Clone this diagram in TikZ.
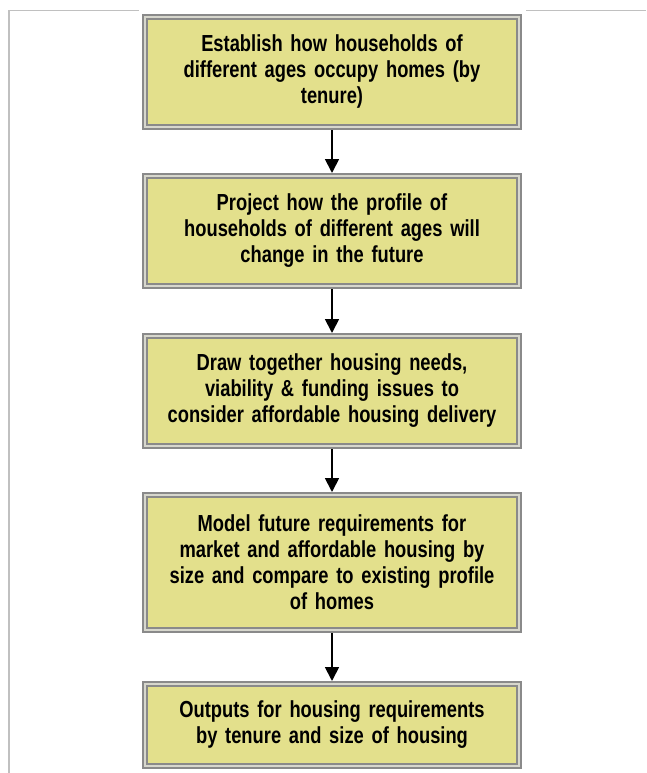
\documentclass[tikz,border=0pt]{standalone}
\usepackage{fontspec}
\setmainfont{Liberation Sans}[FakeStretch=0.79]
\usetikzlibrary{arrows.meta}
\definecolor{boxfill}{RGB}{227,224,140}
\definecolor{boxline}{RGB}{138,138,138}
\definecolor{boxgap}{RGB}{215,215,205}
\definecolor{framegray}{RGB}{192,192,192}
\begin{document}
\begin{tikzpicture}[x=1pt,y=1pt,
  stepbox/.style={draw=boxline, double=boxgap, line width=1.8pt, double distance=2pt,
    fill=boxfill, minimum width=374.4pt, text width=370pt, align=center,
    inner sep=0pt, outer sep=2.8pt, font=\fontsize{23.2}{26}\selectfont\bfseries},
  flow/.style={-{Triangle[length=14pt,width=14pt]}, line width=1.8pt}]
\useasboundingbox (0,0) rectangle (646,-773);
\draw[framegray, line width=1.5pt] (9,-773) -- (9,-10.5) -- (139,-10.5);
\draw[framegray, line width=1.5pt] (526,-10.5) -- (646,-10.5);
\node[stepbox, minimum height=110.4pt] (b1) at (332,-72)
  {Establish how households of\\different ages occupy homes (by\\tenure)};
\node[stepbox, minimum height=110.4pt] (b2) at (332,-231)
  {Project how the profile of\\households of different ages will\\change in the future};
\node[stepbox, minimum height=110.4pt] (b3) at (332,-391)
  {Draw together housing needs,\\viability \& funding issues to\\consider affordable housing delivery};
\node[stepbox, minimum height=135.4pt] (b4) at (332,-562.5)
  {Model future requirements for\\market and affordable housing by\\size and compare to existing profile\\of homes};
\node[stepbox, minimum height=82.4pt] (b5) at (332,-725)
  {Outputs for housing requirements\\by tenure and size of housing};
\draw[flow] (b1) -- (b2);
\draw[flow] (b2) -- (b3);
\draw[flow] (b3) -- (b4);
\draw[flow] (b4) -- (b5);
\end{tikzpicture}
\end{document}
